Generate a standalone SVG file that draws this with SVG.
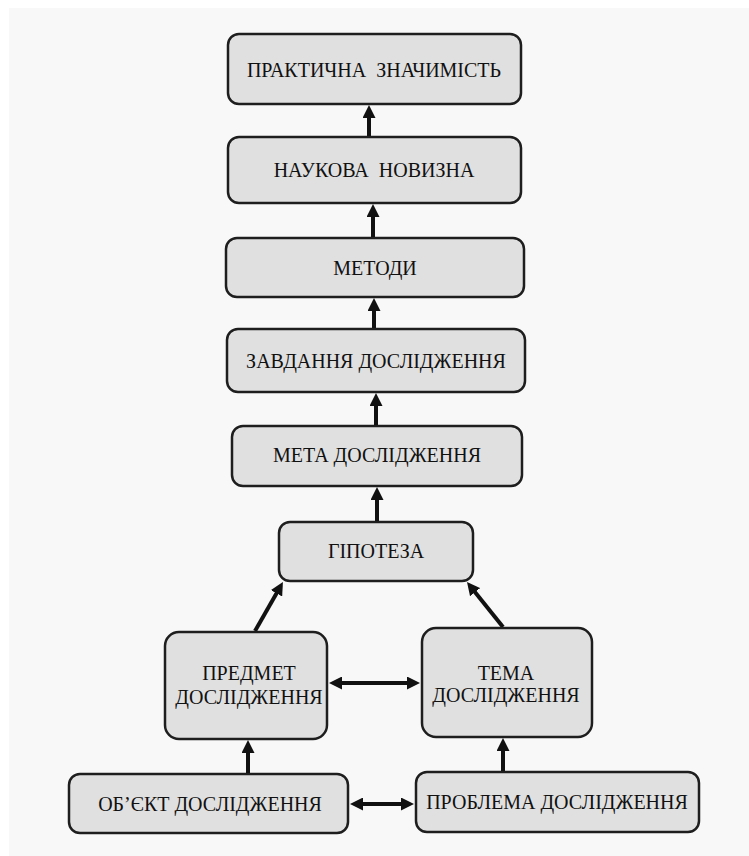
<svg xmlns="http://www.w3.org/2000/svg" width="749" height="856" viewBox="0 0 749 856">
<style>
.box{fill:#e0e0e0;stroke:#1e1e1e;stroke-width:2.5}
.t{font-size:20px;fill:#111;text-anchor:middle}
.c{stroke:#111;stroke-width:4;fill:none}
</style>
<defs>
<marker id="ah" markerUnits="userSpaceOnUse" viewBox="0 0 13 13" markerWidth="13" markerHeight="13" refX="1" refY="6.5" orient="auto-start-reverse">
<path d="M0,0 L13,6.5 L0,13 z" fill="#111"/>
</marker>
</defs>
<rect x="0" y="0" width="749" height="856" fill="#ffffff"/>
<rect x="9" y="8" width="740" height="848" fill="#f8f8f8"/>
<g id="connectors">
<line class="c" x1="369" y1="136" x2="369" y2="117" marker-end="url(#ah)"/>
<line class="c" x1="373" y1="237" x2="373" y2="216" marker-end="url(#ah)"/>
<line class="c" x1="374" y1="328" x2="374" y2="310" marker-end="url(#ah)"/>
<line class="c" x1="376" y1="425" x2="376" y2="405" marker-end="url(#ah)"/>
<line class="c" x1="377" y1="521" x2="377" y2="499" marker-end="url(#ah)"/>
<line class="c" x1="255" y1="631" x2="277" y2="592.4" marker-end="url(#ah)"/>
<line class="c" x1="503" y1="627" x2="474.5" y2="591.4" marker-end="url(#ah)"/>
<line class="c" x1="341" y1="683" x2="408" y2="683" marker-start="url(#ah)" marker-end="url(#ah)"/>
<line class="c" x1="248" y1="773" x2="248" y2="752" marker-end="url(#ah)"/>
<line class="c" x1="503" y1="771" x2="503" y2="750" marker-end="url(#ah)"/>
<line class="c" x1="362" y1="804" x2="402" y2="804" marker-start="url(#ah)" marker-end="url(#ah)"/>
</g>
<g font-family="'Liberation Serif', 'Times New Roman', serif">
<g id="n-praktychna"><rect class="box" x="228" y="34" width="293" height="70" rx="11"/><text class="t" x="374" y="77" xml:space="preserve">ПРАКТИЧНА  ЗНАЧИМІСТЬ</text></g>
<g id="n-novyzna"><rect class="box" x="228" y="137" width="293" height="66" rx="11"/><text class="t" x="374" y="177" xml:space="preserve">НАУКОВА  НОВИЗНА</text></g>
<g id="n-metody"><rect class="box" x="226" y="238" width="298" height="59" rx="11"/><text class="t" x="375" y="275">МЕТОДИ</text></g>
<g id="n-zavdannia"><rect class="box" x="227" y="329" width="298" height="63" rx="11"/><text class="t" x="376" y="368">ЗАВДАННЯ ДОСЛІДЖЕННЯ</text></g>
<g id="n-meta"><rect class="box" x="232" y="426" width="290" height="60" rx="11"/><text class="t" x="377" y="462">МЕТА ДОСЛІДЖЕННЯ</text></g>
<g id="n-hipoteza"><rect class="box" x="279" y="522" width="194" height="59" rx="11"/><text class="t" x="376" y="558">ГІПОТЕЗА</text></g>
<g id="n-predmet"><rect class="box" x="165" y="632" width="162" height="107" rx="14"/><text class="t" x="249" y="680">ПРЕДМЕТ</text><text class="t" x="249" y="704">ДОСЛІДЖЕННЯ</text></g>
<g id="n-tema"><rect class="box" x="422" y="628" width="170" height="109" rx="14"/><text class="t" x="506" y="680">ТЕМА</text><text class="t" x="506" y="702">ДОСЛІДЖЕННЯ</text></g>
<g id="n-obiekt"><rect class="box" x="69" y="774" width="279" height="59" rx="11"/><text class="t" x="210" y="811">ОБ’ЄКТ ДОСЛІДЖЕННЯ</text></g>
<g id="n-problema"><rect class="box" x="416" y="772" width="283" height="60" rx="11"/><text class="t" x="557" y="809">ПРОБЛЕМА ДОСЛІДЖЕННЯ</text></g>
</g>
</svg>
